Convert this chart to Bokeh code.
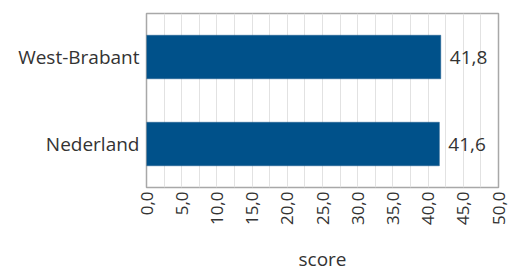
import math
from bokeh.plotting import figure
from bokeh.models import ColumnDataSource, Range1d, FactorRange, SingleIntervalTicker, CustomJSTickFormatter
from bokeh.embed import file_html
from bokeh.resources import INLINE
from bokeh.core.properties import value

categories = ["West-Brabant", "Nederland"]
scores = [41.8, 41.6]
labels = ["41,8", "41,6"]
x_title = "score"

FONT = "Open Sans"
TXT = "#333333"
BAR = "#00518a"

src = ColumnDataSource(dict(cat=categories, score=scores, label=labels))

p = figure(width=510, height=275, output_backend="svg", toolbar_location=None,
           y_range=FactorRange(*categories[::-1]), x_range=Range1d(0, 50),
           min_border_left=146, min_border_right=12, min_border_top=13, min_border_bottom=84)

p.hbar(y="cat", right="score", left=0, height=0.5, source=src,
       fill_color=BAR, line_color="#1f5f8f", line_width=0.5)
p.text(x="score", y="cat", text="label", source=src, x_offset=9,
       text_align="left", text_baseline="middle", text_font=value(FONT),
       text_font_size="19px", text_color=TXT)

p.outline_line_color = "#a8a8a8"
p.outline_line_width = 1.5
p.ygrid.grid_line_color = None
p.xgrid.ticker = SingleIntervalTicker(interval=2.5)
p.xgrid.grid_line_color = "#e2e2e2"
p.xgrid.grid_line_width = 1

p.xaxis.ticker = SingleIntervalTicker(interval=5)
p.xaxis.formatter = CustomJSTickFormatter(code="return tick.toFixed(1).replace('.', ',');")
p.xaxis.major_label_orientation = math.pi / 2
p.xaxis.major_label_standoff = 4
p.xaxis.axis_label = x_title
p.xaxis.axis_label_standoff = 18
p.xaxis.axis_label_text_font_style = "normal"
p.xaxis.axis_label_text_font = FONT
p.xaxis.axis_label_text_font_size = "19px"
p.xaxis.axis_label_text_color = TXT

for ax in (p.xaxis, p.yaxis):
    ax.axis_line_color = None
    ax.major_tick_line_color = None
    ax.minor_tick_line_color = None
    ax.major_tick_out = 0
    ax.major_tick_in = 0
    ax.minor_tick_out = 0
    ax.major_label_text_font = FONT
    ax.major_label_text_color = TXT

p.xaxis.major_label_text_font_size = "17px"
p.yaxis.major_label_text_font_size = "19px"
p.yaxis.major_label_standoff = 7

open("out.html", "w").write(file_html(p, INLINE))
